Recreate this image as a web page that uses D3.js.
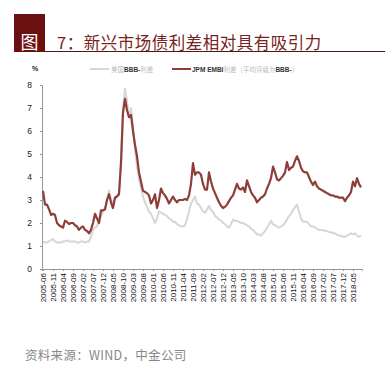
<!DOCTYPE html>
<html>
<head>
<meta charset="utf-8">
<script src="https://cdn.jsdelivr.net/npm/d3@7"></script>
<style>
  body { margin: 0; background: #fff; }
  svg { display: block; }
</style>
</head>
<body>
<div id="chart"></div>
<script>
// monthly spreads, starting 2005-06 (percent)
var embiSpread = [
  3.4, 2.8, 2.8, 2.6, 2.35, 2.4, 2.35, 2.0, 1.9, 1.85, 1.8, 2.1, 2.05, 1.95, 2.0, 2.0,
  1.9, 1.85, 1.7, 1.8, 1.85, 1.7, 1.65, 1.55, 1.7, 2.0, 2.4, 2.2, 2.0, 2.55, 2.55, 2.6,
  3.0, 3.25, 2.9, 2.65, 3.1, 3.15, 3.25, 4.6, 6.8, 7.4, 6.9, 6.6, 6.7, 6.0, 5.4, 4.9,
  4.2, 3.8, 3.4, 3.35, 3.3, 3.2, 2.85, 3.0, 3.25, 2.65, 3.0, 3.5, 3.3, 3.2, 3.05, 2.85,
  3.0, 3.15, 3.0, 2.9, 3.0, 3.0, 3.0, 3.05, 3.0, 3.2, 3.7, 4.6, 4.1, 4.2, 4.2, 4.1,
  3.7, 3.45, 3.45, 4.2, 3.8, 3.5, 3.3, 3.1, 2.9, 2.75, 2.65, 2.7, 2.8, 2.95, 3.1, 3.2,
  3.45, 3.7, 3.5, 3.45, 3.55, 3.35, 3.85, 3.6, 3.35, 3.2, 3.1, 2.9, 3.0, 3.1, 3.15, 3.25,
  3.5, 3.7, 3.95, 4.45, 4.2, 3.9, 3.85, 3.95, 4.05, 4.2, 4.65, 4.3, 4.4, 4.45, 4.7, 4.9,
  4.7, 4.4, 4.25, 4.2, 4.2, 4.0, 3.8, 3.65, 3.8, 3.6, 3.5, 3.45, 3.4, 3.35, 3.3, 3.25,
  3.2, 3.2, 3.15, 3.15, 3.1, 3.1, 3.1, 2.95, 3.1, 3.2, 3.35, 3.8, 3.6, 3.95, 3.7, 3.55
];
var bbbSpread = [
  1.2, 1.15, 1.15, 1.2, 1.25, 1.3, 1.2, 1.15, 1.15, 1.15, 1.2, 1.2, 1.25, 1.2, 1.2, 1.2,
  1.2, 1.15, 1.15, 1.2, 1.2, 1.15, 1.2, 1.2, 1.4, 1.7, 1.8, 1.85, 2.1, 2.3, 2.5, 2.6,
  3.0, 3.4, 3.0, 2.9, 3.1, 3.2, 3.3, 4.8, 7.0, 7.85, 7.3, 6.6, 7.0, 6.2, 5.2, 4.45,
  3.9, 3.5, 3.15, 2.9, 2.7, 2.5, 2.4, 2.2, 2.0, 2.2, 2.5, 2.45, 2.4, 2.35, 2.3, 2.2,
  2.15, 2.05, 2.05, 1.95, 1.9, 1.85, 1.85, 1.9, 2.15, 2.5, 2.85, 3.0, 3.15, 2.85, 2.8, 2.65,
  2.5, 2.45, 2.6, 2.75, 2.55, 2.5, 2.3, 2.25, 2.15, 2.1, 2.0, 1.95, 1.85, 1.8, 1.95, 2.15,
  2.1, 2.1, 2.05, 2.0, 2.0, 1.95, 1.9, 1.85, 1.75, 1.7, 1.6, 1.5, 1.5, 1.45, 1.55, 1.65,
  1.8, 1.95, 2.1, 1.95, 1.9, 1.85, 1.8, 1.85, 1.9, 2.0, 2.15, 2.3, 2.4, 2.55, 2.7, 2.8,
  2.5, 2.2, 2.05, 2.05, 2.05, 1.95, 1.85, 1.85, 1.8, 1.75, 1.7, 1.7, 1.7, 1.65, 1.65, 1.6,
  1.6, 1.55, 1.55, 1.5, 1.45, 1.45, 1.4, 1.4, 1.45, 1.5, 1.55, 1.5, 1.55, 1.45, 1.4, 1.45
];
// x labels every 5 months
var tickLabels = [
  "2005-06", "2005-11", "2006-04", "2006-09", "2007-02", "2007-07", "2007-12", "2008-05",
  "2008-10", "2009-03", "2009-08", "2010-01", "2010-06", "2010-11", "2011-04", "2011-09",
  "2012-02", "2012-07", "2012-12", "2013-05", "2013-10", "2014-03", "2014-08", "2015-01",
  "2015-06", "2015-11", "2016-04", "2016-09", "2017-02", "2017-07", "2017-12", "2018-05"
];
var yTicks = [0, 1, 2, 3, 4, 5, 6, 7, 8];

var svgWidth = 392, svgHeight = 371;
var latin = "'Liberation Sans', Arial, sans-serif";
var cjk = "'Noto Sans CJK SC', sans-serif";

var svg = d3.select("#chart")
  .append("svg")
  .attr("width", svgWidth)
  .attr("height", svgHeight);

// title block
svg.append("rect")
  .attr("x", 14).attr("y", 14)
  .attr("width", 31).attr("height", 38)
  .attr("fill", "#6b1010");
svg.append("text")
  .attr("x", 29.5).attr("y", 49)
  .attr("text-anchor", "middle")
  .attr("fill", "#fff")
  .style("font-family", cjk)
  .style("font-size", "18px")
  .text("图");
svg.append("text")
  .attr("x", 57).attr("y", 49)
  .attr("fill", "#7a2222")
  .style("font-family", cjk)
  .style("font-size", "16.5px")
  .style("letter-spacing", "0.5px")
  .text("7：新兴市场债利差相对具有吸引力");
svg.append("line")
  .attr("x1", 45).attr("x2", 385)
  .attr("y1", 51.5).attr("y2", 51.5)
  .attr("stroke", "#4a1a1a")
  .attr("stroke-width", 1);

// scales
var x = d3.scaleLinear().domain([-0.5, 159.5]).range([42, 362]);
var y = d3.scaleLinear().domain([0, 8]).range([269, 85]);

// y axis
var yAxis = svg.append("g")
  .attr("transform", "translate(42,0)")
  .call(d3.axisLeft(y).tickValues(yTicks).tickSize(2).tickPadding(8).tickFormat(d3.format("d")));
yAxis.select(".domain").attr("stroke", "#999");
yAxis.selectAll(".tick line").attr("stroke", "#999");
yAxis.selectAll("text").attr("fill", "#222").style("font-family", latin).style("font-size", "8.5px");

// x axis
var xAxis = svg.append("g")
  .attr("transform", "translate(0,269)")
  .call(d3.axisBottom(x)
    .tickValues(tickLabels.map(function(d, i) { return i * 5; }))
    .tickSize(2)
    .tickFormat(function(d) { return tickLabels[d / 5]; }));
xAxis.select(".domain").attr("stroke", "#999");
xAxis.selectAll(".tick line").attr("stroke", "#999");
xAxis.selectAll("text")
  .attr("transform", "rotate(-90)")
  .attr("text-anchor", "end")
  .attr("x", -4).attr("y", 0).attr("dy", "0.35em")
  .attr("fill", "#111")
  .style("font-family", latin)
  .style("font-size", "8px");

// "%" label
svg.append("text")
  .attr("x", 35).attr("y", 71)
  .attr("text-anchor", "middle")
  .attr("fill", "#222")
  .style("font-family", latin)
  .style("font-size", "7px")
  .style("font-weight", "bold")
  .text("%");

// lines
var line = d3.line()
  .x(function(d, i) { return x(i); })
  .y(function(d) { return y(d); });

svg.append("path")
  .datum(bbbSpread)
  .attr("fill", "none")
  .attr("stroke", "#d6d6d6")
  .attr("stroke-width", 2)
  .attr("stroke-linejoin", "round")
  .attr("d", line);

svg.append("path")
  .datum(embiSpread)
  .attr("fill", "none")
  .attr("stroke", "#8e3e38")
  .attr("stroke-width", 2.2)
  .attr("stroke-linejoin", "round")
  .attr("d", line);

// legend
var legend = svg.append("g").style("font-size", "6.5px");
legend.append("line")
  .attr("x1", 90).attr("x2", 109).attr("y1", 69).attr("y2", 69)
  .attr("stroke", "#d6d6d6").attr("stroke-width", 2);
var t1 = legend.append("text").attr("x", 111).attr("y", 71.5);
t1.append("tspan").attr("fill", "#bbb").style("font-family", cjk).text("美国");
t1.append("tspan").attr("fill", "#333").style("font-family", latin).style("font-weight", "bold").text("BBB-");
t1.append("tspan").attr("fill", "#bbb").style("font-family", cjk).text("利差");

legend.append("line")
  .attr("x1", 172).attr("x2", 191).attr("y1", 69).attr("y2", 69)
  .attr("stroke", "#8e3e38").attr("stroke-width", 2);
var t2 = legend.append("text").attr("x", 192).attr("y", 71.5);
t2.append("tspan").attr("fill", "#333").style("font-family", latin).style("font-weight", "bold").text("JPM EMBI");
t2.append("tspan").attr("fill", "#bbb").style("font-family", cjk).text("利差（平均评级为");
t2.append("tspan").attr("fill", "#333").style("font-family", latin).style("font-weight", "bold").text("BBB-");
t2.append("tspan").attr("fill", "#bbb").style("font-family", cjk).text("）");

// source
svg.append("text")
  .attr("x", 25).attr("y", 360)
  .attr("fill", "#888")
  .style("font-family", cjk)
  .style("font-size", "12.5px")
  .style("letter-spacing", "0.3px")
  .text("资料来源：WIND，中金公司");
</script>
</body>
</html>
